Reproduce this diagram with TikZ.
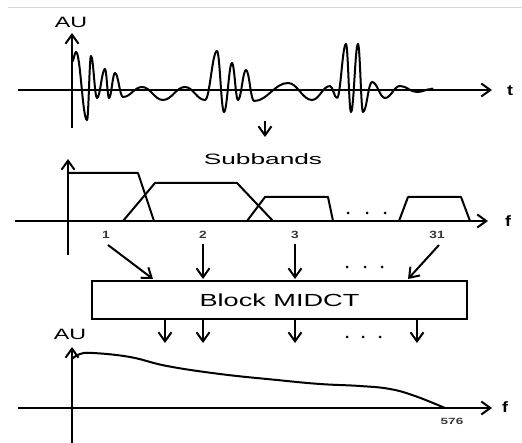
\documentclass[tikz,border=0pt]{standalone}
\usepackage{fontspec}
\setmainfont{Liberation Sans}
\usepackage{graphicx}
\usetikzlibrary{arrows.meta}
\newcommand{\sx}[2]{\scalebox{#1}[1]{#2}}
\begin{document}
\begin{tikzpicture}[x=1pt,y=-1pt,
  tipA/.tip={Straight Barb[length=9pt,width=13pt,line width=2pt]},
  axis/.style={line width=2pt,-tipA},
  conn/.style={line width=2pt,-tipA},
  wave/.style={line width=2pt,line join=round},
  band/.style={line width=2pt,line join=round},
  big/.style={inner sep=0pt,font=\fontsize{15pt}{17pt}\selectfont},
  var/.style={inner sep=0pt,font=\fontsize{15pt}{17pt}\selectfont\bfseries},
  num/.style={inner sep=0pt,text={rgb,255:red,55;green,55;blue,55},font=\fontsize{10.5pt}{12pt}\selectfont\bfseries},
  blockbox/.style={draw,line width=1.6pt,minimum width=375pt,minimum height=38pt,inner sep=0pt,font=\fontsize{17.5pt}{19pt}\selectfont},
  dotc/.style={circle,fill,inner sep=0pt,minimum size=3pt}
]
\useasboundingbox (0,0) rectangle (522,443);
% top gray rule
\draw[line width=0.8pt,color={rgb,255:red,215;green,215;blue,215}] (8,7) -- (522,7);

% ---------- top panel ----------
\coordinate (t0) at (72,128);
\coordinate (t1) at (72,33);
\coordinate (h0) at (18,90);
\coordinate (h1) at (492,90);
\draw[axis] (t0) -- (t1);
\draw[axis] (h0) -- (h1);
\node[big] (au1) at (71,22) {\sx{1.55}{AU}};
\node[var] (tl) at (510,91) {\sx{1.2}{t}};
\draw[wave] (72,62) \foreach \x/\y [remember=\x as \px (initially 72), remember=\y as \py (initially 62)] in
  {76/52, 87/120, 91/56, 97/98, 105/69, 109/98, 115/73, 123/97, 142/87, 163/100, 185/87, 205/100,
   217/51, 224/112, 232/63, 238/100, 246/70, 254/101, 288/83, 312/100, 330/86, 337/98,
   346/44, 351/112, 358/44, 363/112, 372/82, 385/98, 400/86, 417/92, 432/89}
  { .. controls ({\px+0.4*(\x-\px)},\py) and ({\x-0.4*(\x-\px)},\y) .. (\x,\y) };
\fill (432,89) circle (1.6);

% arrow to subbands
\coordinate (d0) at (265,121);
\coordinate (d1) at (265,137);
\draw[conn] (d0) -- (d1);
\node[big] (sub) at (263,159) {\sx{1.75}{Subbands}};

% ---------- middle panel ----------
\coordinate (m0) at (68,255);
\coordinate (m1) at (68,159);
\coordinate (mh0) at (15,221);
\coordinate (mh1) at (488,221);
\draw[axis] (m0) -- (m1);
\draw[axis] (mh0) -- (mh1);
\node[var] (fl1) at (508,221) {\sx{1.2}{f}};
\draw[band] (68,173) -- (138,173) -- (154,221);
\draw[band] (123,221) -- (155,183) -- (237,183) -- (273,221);
\draw[band] (247,221) -- (265,197) -- (328,197) -- (333,221);
\draw[band] (399,221) -- (408,197) -- (461,197) -- (470,221);
\node[dotc] (md1) at (348,213) {};
\node[dotc] (md2) at (367,213) {};
\node[dotc] (md3) at (385,213) {};

\node[num] (l1) at (106,235) {\sx{1.3}{1}};
\node[num] (l2) at (203,235) {\sx{1.3}{2}};
\node[num] (l3) at (295,235) {\sx{1.3}{3}};
\node[num] (l31) at (437,235) {\sx{1.3}{31}};

% block
\node[blockbox] (blk) at (279.5,300) {\sx{1.55}{Block MIDCT}};
\coordinate (b1) at (153,279);
\coordinate (b2) at (203,279);
\coordinate (b3) at (295,279);
\coordinate (b31) at (408,279);
\draw[conn] (108,245) -- (b1);
\draw[conn] (l2.south) ++(0,5) -- (b2);
\draw[conn] (l3.south) ++(0,5) -- (b3);
\draw[conn] (439,245) -- (b31);
\node[dotc] (ad1) at (347,267) {};
\node[dotc] (ad2) at (365,267) {};
\node[dotc] (ad3) at (382,267) {};

% outputs
\coordinate (o1) at (165,343);
\coordinate (o2) at (203,343);
\coordinate (o3) at (295,343);
\coordinate (o4) at (417,343);
\draw[conn] (blk.south -| o1) -- (o1);
\draw[conn] (blk.south -| o2) -- (o2);
\draw[conn] (blk.south -| o3) -- (o3);
\draw[conn] (blk.south -| o4) -- (o4);
\node[dotc] (od1) at (347,337) {};
\node[dotc] (od2) at (363,337) {};
\node[dotc] (od3) at (380,337) {};

% ---------- bottom panel ----------
\coordinate (bb0) at (72,443);
\coordinate (bb1) at (72,347);
\coordinate (bh0) at (18,408);
\coordinate (bh1) at (492,408);
\draw[axis] (bb0) -- (bb1);
\draw[axis] (bh0) -- (bh1);
\node[big] (au2) at (70,334) {\sx{1.55}{AU}};
\node[var] (fl2) at (505,407) {\sx{1.2}{f}};
\draw[wave] plot[smooth,tension=0.7] coordinates {(72,359) (80,354) (93,353) (130,357) (167,366) (220,374) (277,380) (320,384) (360,386) (390,389) (415,396) (445,408)};
\node[num] (n576) at (452,421) {\sx{1.5}{\fontsize{9pt}{10pt}\selectfont 576}};
\end{tikzpicture}
\end{document}
